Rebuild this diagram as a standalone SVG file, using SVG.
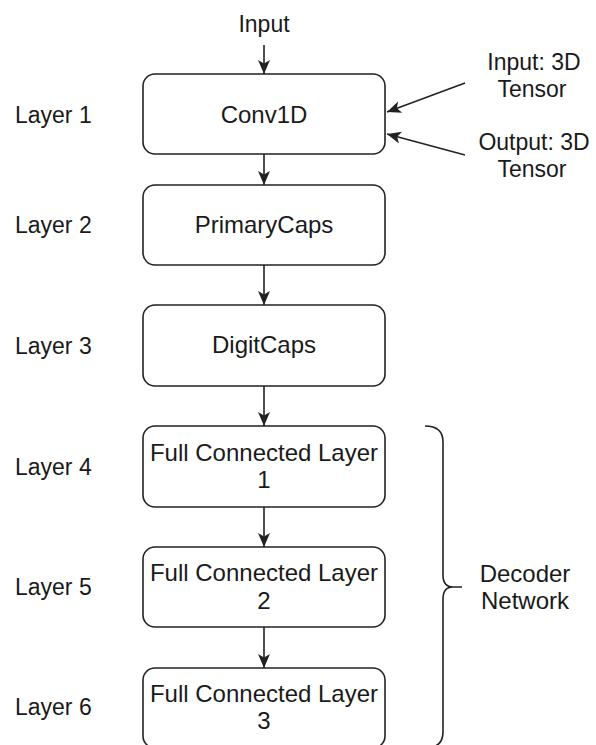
<svg xmlns="http://www.w3.org/2000/svg" width="596" height="745" viewBox="0 0 596 745">
<style>
.box{fill:#fff;stroke:#222;stroke-width:1.6}
.t{font-family:"Liberation Sans",Arial,Helvetica,sans-serif;font-size:23px;fill:#1a1a1a}
.b{font-size:24px}
.m{text-anchor:middle}
.c{fill:none;stroke:#222;stroke-width:1.6}
</style>
<defs>
<marker id="ah" markerUnits="userSpaceOnUse" markerWidth="16" markerHeight="14" viewBox="-15 -7 16 14" refX="0" refY="0" orient="auto">
<path d="M0,0 L-14,-6 L-10.5,0 L-14,6 Z" fill="#222"/>
</marker>
</defs>
<rect width="596" height="745" fill="#fff"/>
<g id="labels" class="t">
<text x="15" y="123">Layer 1</text>
<text x="15" y="233">Layer 2</text>
<text x="15" y="354">Layer 3</text>
<text x="15" y="475">Layer 4</text>
<text x="15" y="595">Layer 5</text>
<text x="15" y="715">Layer 6</text>
<text class="m" x="264" y="32">Input</text>
<text class="m" x="534" y="70">Input: 3D</text>
<text class="m" x="532" y="97">Tensor</text>
<text class="m" x="534" y="150">Output: 3D</text>
<text class="m" x="532" y="177">Tensor</text>
</g>
<g id="conv1d"><rect class="box" x="143" y="74" width="242" height="80" rx="12"/><text class="t b m" x="264" y="123">Conv1D</text></g>
<g id="primarycaps"><rect class="box" x="143" y="185" width="242" height="80" rx="12"/><text class="t b m" x="264" y="233">PrimaryCaps</text></g>
<g id="digitcaps"><rect class="box" x="143" y="305" width="242" height="81" rx="12"/><text class="t b m" x="264" y="353">DigitCaps</text></g>
<g id="fcl1"><rect class="box" x="143" y="426" width="242" height="81" rx="12"/><text class="t b m" x="264" y="461">Full Connected Layer</text><text class="t b m" x="264" y="488">1</text></g>
<g id="fcl2"><rect class="box" x="143" y="547" width="242" height="80" rx="12"/><text class="t b m" x="264" y="581">Full Connected Layer</text><text class="t b m" x="264" y="609">2</text></g>
<g id="fcl3"><rect class="box" x="143" y="668" width="242" height="80" rx="12"/><text class="t b m" x="264" y="702">Full Connected Layer</text><text class="t b m" x="264" y="729">3</text></g>
<g id="decoder">
<path class="c" d="M425,426 Q443,426 443,442 V575 Q443,587 453,587 H462 M453,587 Q443,587 443,599 V732 Q443,748 425,748"/>
<text class="t b m" x="525" y="582">Decoder</text>
<text class="t b m" x="525" y="609">Network</text>
</g>
<g id="connectors" class="c" marker-end="url(#ah)">
<line x1="264" y1="45" x2="264" y2="74"/>
<line x1="264" y1="154" x2="264" y2="185"/>
<line x1="264" y1="265" x2="264" y2="305"/>
<line x1="264" y1="386" x2="264" y2="426"/>
<line x1="264" y1="507" x2="264" y2="547"/>
<line x1="264" y1="627" x2="264" y2="668"/>
<line x1="465" y1="83" x2="387" y2="112"/>
<line x1="465" y1="155" x2="387" y2="134"/>
</g>
</svg>
